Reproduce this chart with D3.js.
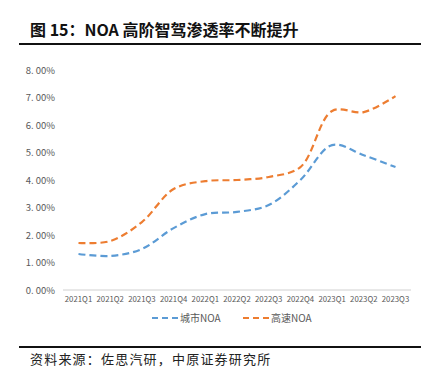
<!DOCTYPE html>
<html>
<head>
<meta charset="utf-8">
<script src="https://cdn.jsdelivr.net/npm/d3@7"></script>
<style>
  body { margin: 0; background: #fff; }
  svg { display: block; font-family: "Noto Sans CJK SC", "Liberation Sans", sans-serif; }
</style>
</head>
<body>
<svg width="437" height="369"></svg>
<script>
const quarters = ["2021Q1","2021Q2","2021Q3","2021Q4","2022Q1","2022Q2","2022Q3","2022Q4","2023Q1","2023Q2","2023Q3"]
const cityNOA = [1.31, 1.24, 1.49, 2.25, 2.76, 2.84, 3.09, 4.00, 5.27, 4.90, 4.47]
const highwayNOA = [1.71, 1.78, 2.47, 3.67, 3.96, 4.00, 4.11, 4.47, 6.51, 6.47, 7.05]
const yTicks = [0, 1, 2, 3, 4, 5, 6, 7, 8]
const seriesNames = ["城市NOA", "高速NOA"]

const svg = d3.select("svg")

// title + rules
svg.append("text")
    .attr("x", 30)
    .attr("y", 36)
    .attr("font-size", 16)
    .attr("font-weight", "bold")
    .attr("fill", "#111")
    .text("图 15：NOA 高阶智驾渗透率不断提升")

svg.append("line")
    .attr("x1", 19).attr("x2", 421)
    .attr("y1", 44).attr("y2", 44)
    .attr("stroke", "#111").attr("stroke-width", 1.8)

svg.append("line")
    .attr("x1", 19).attr("x2", 421)
    .attr("y1", 347).attr("y2", 347)
    .attr("stroke", "#111").attr("stroke-width", 1.8)

svg.append("text")
    .attr("x", 30)
    .attr("y", 364)
    .attr("font-size", 13)
    .attr("letter-spacing", 1.2)
    .attr("fill", "#222")
    .text("资料来源：佐思汽研，中原证券研究所")

// scales
const x = d3.scalePoint()
    .domain(quarters)
    .range([78.5, 395.5])

const y = d3.scaleLinear()
    .domain([0, 8])
    .range([290, 70])

// y labels
svg.selectAll("text.ytick")
    .data(yTicks)
    .enter()
    .append("text")
    .attr("class", "ytick")
    .attr("x", 55)
    .attr("y", d => y(d) + 3.5)
    .attr("text-anchor", "end")
    .attr("font-size", 9.5)
    .attr("fill", "#595959")
    .text(d => d.toFixed(2).replace(".", ". ") + "%")

// x axis line
svg.append("line")
    .attr("x1", 63).attr("x2", 411)
    .attr("y1", y(0)).attr("y2", y(0))
    .attr("stroke", "#d0d0d0").attr("stroke-width", 1)

svg.selectAll("text.xtick")
    .data(quarters)
    .enter()
    .append("text")
    .attr("class", "xtick")
    .attr("x", d => x(d))
    .attr("y", 302)
    .attr("text-anchor", "middle")
    .attr("font-size", 7.8)
    .attr("fill", "#595959")
    .text(d => d)

const colors = ["#5b9bd5", "#ed7d31"]

const line = d3.line()
    .x((d, i) => x(quarters[i]))
    .y(d => y(d))
    .curve(d3.curveCatmullRom.alpha(0.5))

;[cityNOA, highwayNOA].forEach((s, k) => {
    svg.append("path")
        .datum(s)
        .attr("d", line)
        .attr("fill", "none")
        .attr("stroke", colors[k])
        .attr("stroke-width", 2.2)
        .attr("stroke-dasharray", "7,4")
})

// legend
const legendX = [152, 243]
seriesNames.forEach((name, k) => {
    svg.append("line")
        .attr("x1", legendX[k]).attr("x2", legendX[k] + 26)
        .attr("y1", 318).attr("y2", 318)
        .attr("stroke", colors[k])
        .attr("stroke-width", 2.2)
        .attr("stroke-dasharray", "6,4")
    svg.append("text")
        .attr("x", legendX[k] + 28)
        .attr("y", 322)
        .attr("font-size", 10)
        .attr("fill", "#595959")
        .text(name)
})
</script>
</body>
</html>
